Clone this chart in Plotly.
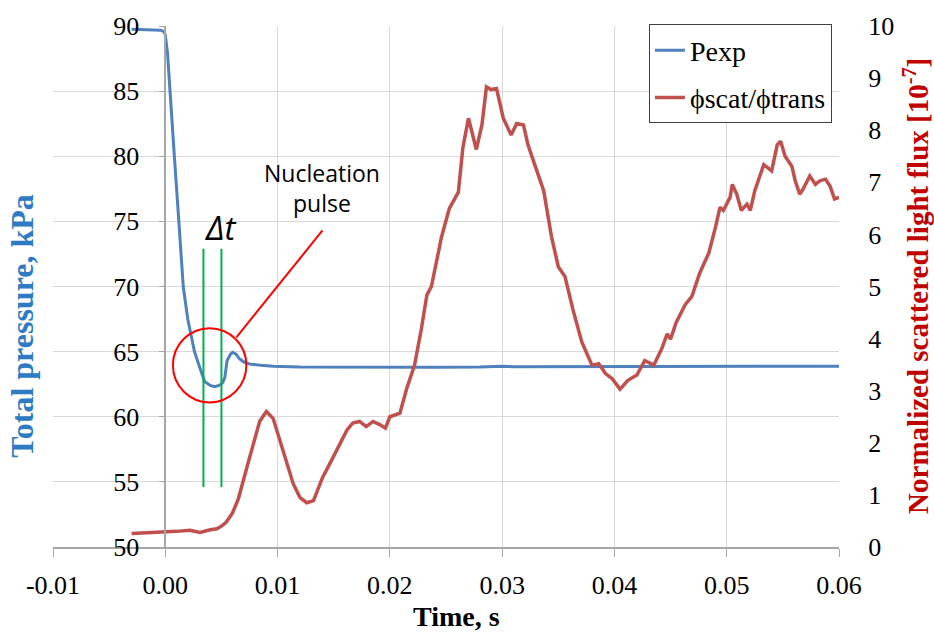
import plotly.graph_objects as go

# Pressure trace, kPa
t_p = [-0.0030, -0.0020, -0.0010, -0.0004, -0.0001, 0.0000, 0.0002, 0.0004, 0.0006, 0.0008,
       0.0012, 0.0016, 0.0020, 0.0023, 0.0026, 0.0031, 0.0035, 0.0040, 0.0044, 0.0048,
       0.0051, 0.0053, 0.0055, 0.0058, 0.0060, 0.0063, 0.0066, 0.0070, 0.0075, 0.0085,
       0.0096, 0.0120, 0.0160, 0.0200, 0.0240, 0.0280, 0.0300, 0.0310, 0.0340, 0.0400,
       0.0450, 0.0500, 0.0550, 0.0600]
p_exp = [89.75, 89.72, 89.70, 89.68, 89.55, 89.30, 87.90, 85.00, 82.60, 80.10,
         75.10, 70.00, 67.50, 66.30, 65.00, 63.70, 62.70, 62.40, 62.30, 62.40,
         62.60, 63.00, 64.30, 64.80, 64.95, 64.80, 64.45, 64.20, 64.05, 63.95,
         63.87, 63.82, 63.80, 63.78, 63.80, 63.82, 63.88, 63.84, 63.85, 63.85,
         63.86, 63.86, 63.88, 63.88]

# Normalized scattered light flux, units of 1e-7
t_s = [-0.0030, -0.0015, -0.0005, 0.0010, 0.0022, 0.0031, 0.0040, 0.0046, 0.0050, 0.0054,
       0.0057, 0.0060, 0.0065, 0.0069, 0.0075, 0.0084, 0.0090, 0.0096, 0.0105, 0.0114,
       0.0120, 0.0126, 0.0132, 0.0140, 0.0147, 0.0155, 0.0162, 0.0167, 0.0173, 0.0179,
       0.0185, 0.0191, 0.0196, 0.0200, 0.0209, 0.0215, 0.0222, 0.0228, 0.0233, 0.0237,
       0.0246, 0.0253, 0.0261, 0.0265, 0.0270, 0.0277, 0.0282, 0.0286, 0.0290, 0.0295,
       0.0301, 0.0308, 0.0313, 0.0319, 0.0323, 0.0329, 0.0337, 0.0344, 0.0350, 0.0356,
       0.0363, 0.0371, 0.0380, 0.0386, 0.0392, 0.0398, 0.0405, 0.0412, 0.0420, 0.0427,
       0.0435, 0.0442, 0.0447, 0.0450, 0.0455, 0.0463, 0.0469, 0.0476, 0.0484, 0.0490,
       0.0494, 0.0497, 0.0503, 0.0505, 0.0509, 0.0513, 0.0518, 0.0521, 0.0525, 0.0533,
       0.0537, 0.0540, 0.0545, 0.0548, 0.0552, 0.0558, 0.0561, 0.0565, 0.0568, 0.0574,
       0.0579, 0.0583, 0.0588, 0.0592, 0.0596, 0.0600]
phi_ratio = [0.26, 0.27, 0.29, 0.30, 0.32, 0.28, 0.33, 0.35, 0.40, 0.47,
             0.56, 0.66, 0.92, 1.25, 1.71, 2.41, 2.60, 2.47, 1.84, 1.21,
             0.95, 0.85, 0.89, 1.33, 1.62, 1.97, 2.25, 2.38, 2.41, 2.31,
             2.41, 2.35, 2.28, 2.50, 2.57, 3.04, 3.49, 4.18, 4.84, 5.00,
             5.95, 6.50, 6.81, 7.66, 8.23, 7.63, 8.10, 8.83, 8.78, 8.80,
             8.23, 7.91, 8.13, 8.10, 7.72, 7.34, 6.84, 5.95, 5.38, 5.19,
             4.56, 3.93, 3.49, 3.52, 3.33, 3.23, 3.03, 3.20, 3.30, 3.58,
             3.49, 3.80, 4.09, 3.99, 4.31, 4.65, 4.81, 5.26, 5.64, 6.14,
             6.52, 6.46, 6.71, 6.96, 6.77, 6.46, 6.58, 6.46, 6.84, 7.34,
             7.28, 7.22, 7.72, 7.79, 7.50, 7.31, 7.03, 6.77, 6.87, 7.12,
             6.96, 7.03, 7.06, 6.93, 6.68, 6.71]
assert len(t_p) == len(p_exp) and len(t_s) == len(phi_ratio)

x_ticks = [-0.01, 0.00, 0.01, 0.02, 0.03, 0.04, 0.05, 0.06]
x_tick_labels = ["-0.01", "0.00", "0.01", "0.02", "0.03", "0.04", "0.05", "0.06"]

# Nucleation-pulse markers: the Δt interval edges and the highlighted region
dt_edges = [0.0034, 0.0050]
dt_span = [54.6, 72.9]
circle_t = [0.00068, 0.00722]
circle_p = [61.1, 66.8]
pointer_t = [0.00633, 0.0140]
pointer_p = [66.1, 74.3]

SERIF = "Liberation Serif"
SANS = "Open Sans"
BLUE = "#4F81BD"
RED = "#C0504D"
GRID = "#D9D9D9"
AXIS = "#A6A6A6"

fig = go.Figure()
fig.add_trace(go.Scatter(x=t_p, y=p_exp, name="Pexp", mode="lines", legendgroup="p",
                         line=dict(color=BLUE, width=3), yaxis="y"))
fig.add_trace(go.Scatter(x=t_s, y=phi_ratio, name="ϕscat/ϕtrans", mode="lines", legendgroup="s",
                         line=dict(color=RED, width=3.5), yaxis="y2"))

for te in dt_edges:
    fig.add_shape(type="line", xref="x", yref="y", x0=te, x1=te, y0=dt_span[0], y1=dt_span[1],
                  line=dict(color="#00B050", width=2))
fig.add_shape(type="circle", xref="x", yref="y", x0=circle_t[0], x1=circle_t[1],
              y0=circle_p[0], y1=circle_p[1], line=dict(color="#FF0000", width=2))
fig.add_shape(type="line", xref="x", yref="y", x0=pointer_t[0], x1=pointer_t[1],
              y0=pointer_p[0], y1=pointer_p[1], line=dict(color="#FF0000", width=2))

fig.add_annotation(x=0.0140, y=77.6, xref="x", yref="y", text="Nucleation<br>pulse",
                   showarrow=False, font=dict(family=SANS, size=23, color="#000000"))
fig.add_annotation(x=0.0049, y=74.5, xref="x", yref="y", text="<i>Δt</i>",
                   showarrow=False, font=dict(family=SANS, size=33, color="#000000"))

# Axis titles
fig.add_annotation(x=-0.0394, y=0.423, xref="paper", yref="paper", xanchor="center", yanchor="middle",
                   text="<b>Total pressure, kPa</b>", textangle=-90, showarrow=False,
                   font=dict(family=SERIF, size=32, color="#2E7BC4"))
fig.add_annotation(x=1.0985, y=0.502, xref="paper", yref="paper", xanchor="center", yanchor="middle",
                   text="<b>Normalized scattered light flux [10<sup>-7</sup>]</b>",
                   textangle=-90, showarrow=False, font=dict(family=SERIF, size=29, color="#C00000"))
fig.add_annotation(x=0.513, y=-0.1328, xref="paper", yref="paper", xanchor="center", yanchor="middle",
                   text="<b>Time, s</b>", showarrow=False,
                   font=dict(family=SERIF, size=28, color="#000000"))

right_axis_common = dict(range=[0, 10], dtick=1, overlaying="y", side="right", anchor="x",
                         showgrid=False, zeroline=False)

fig.update_layout(
    width=934, height=638,
    margin=dict(l=53, r=95, t=20, b=91),
    paper_bgcolor="white", plot_bgcolor="white",
    font=dict(family=SERIF, size=26, color="#000000"),
    xaxis=dict(range=[-0.01, 0.06], tickvals=x_ticks, ticktext=x_tick_labels,
               showgrid=True, gridcolor=GRID, gridwidth=1, zeroline=False,
               showline=True, linecolor=AXIS, linewidth=1.5,
               ticks="outside", ticklen=8, tickcolor=AXIS, ticklabelstandoff=6,
               tickfont=dict(family=SERIF, size=26), domain=[0, 1]),
    yaxis=dict(range=[50, 90], dtick=5, anchor="free", position=1/7,
               showgrid=True, gridcolor=GRID, gridwidth=1, zeroline=False,
               showline=True, linecolor=AXIS, linewidth=1.5,
               ticks="outside", ticklen=6, tickcolor=AXIS, ticklabelstandoff=14,
               tickfont=dict(family=SERIF, size=26)),
    # secondary axis: labels set back from the axis line by long invisible ticks
    yaxis2=dict(**right_axis_common, showline=False,
                ticks="outside", ticklen=23, tickcolor="rgba(0,0,0,0)",
                tickfont=dict(family=SERIF, size=26)),
    # secondary axis line with its short visible tick marks
    yaxis3=dict(**right_axis_common, showline=True, linecolor=AXIS, linewidth=1.5,
                ticks="outside", ticklen=7, tickcolor=AXIS, showticklabels=False),
    legend=dict(x=0.991, y=1.003, xanchor="right", yanchor="top",
                bgcolor="white", bordercolor="#404040", borderwidth=1,
                font=dict(family=SERIF, size=28), tracegroupgap=8),
    showlegend=True,
)

fig.write_html("out.html")
